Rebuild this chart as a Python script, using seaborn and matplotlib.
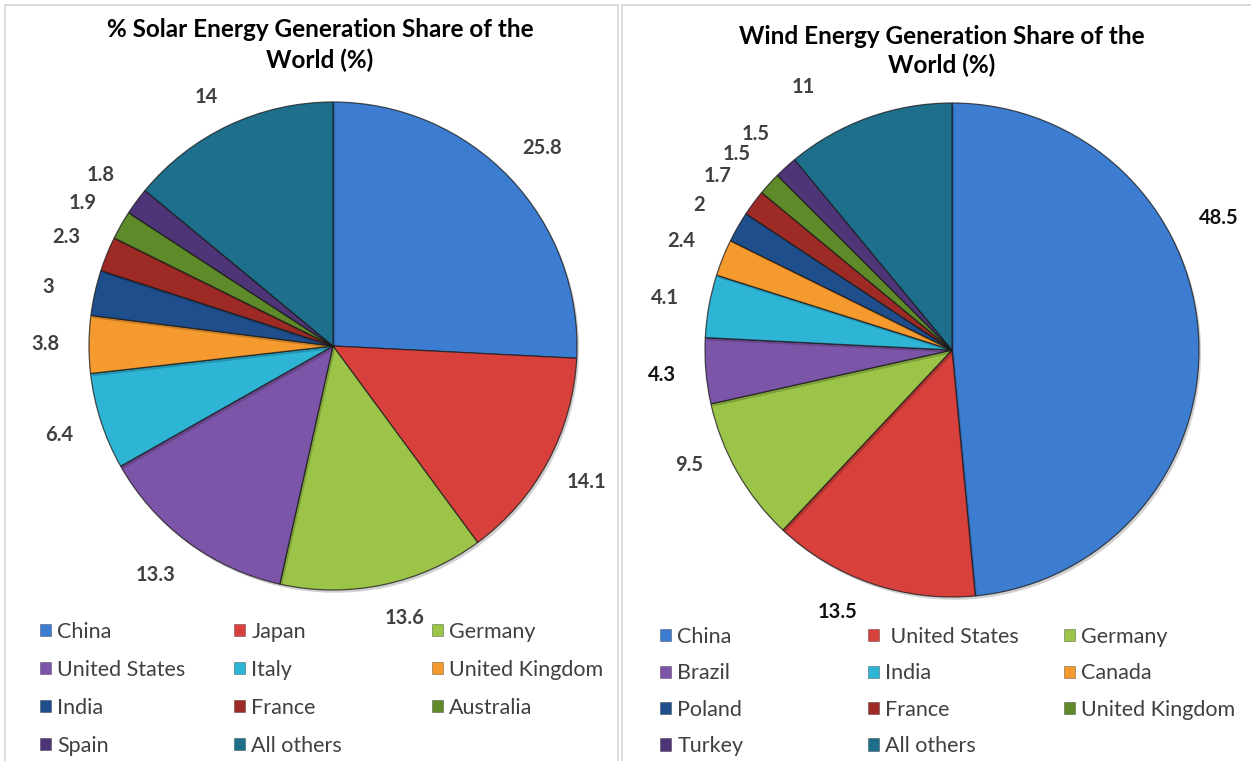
import numpy as np
import matplotlib
matplotlib.use("Agg")
import matplotlib.pyplot as plt
import matplotlib.patheffects as pe
from matplotlib.patches import Rectangle, Patch
from matplotlib.transforms import offset_copy
import seaborn as sns

# ---- data -------------------------------------------------------------
solar_countries = ["China", "Japan", "Germany", "United States", "Italy",
                   "United Kingdom", "India", "France", "Australia", "Spain",
                   "All others"]
solar_share = [25.8, 14.1, 13.6, 13.3, 6.4, 3.8, 3, 2.3, 1.9, 1.8, 14]

wind_countries = ["China", " United States", "Germany", "Brazil", "India",
                  "Canada", "Poland", "France", "United Kingdom", "Turkey",
                  "All others"]
wind_share = [48.5, 13.5, 9.5, 4.3, 4.1, 2.4, 2, 1.7, 1.5, 1.5, 11]

solar_title = "% Solar Energy Generation Share of the\nWorld (%)"
wind_title = "Wind Energy Generation Share of the\nWorld (%)"

# ---- style ------------------------------------------------------------
sns.set_theme(style="white")
plt.rcParams["font.family"] = ["Lato", "DejaVu Sans"]

palette = sns.color_palette([
    "#3C7DD2", "#D8403C", "#9BC448", "#7D55A8", "#2EB5D6", "#F59A2E",
    "#1F4E8C", "#9E2A26", "#5E8A2A", "#4E3578", "#1D6F8C",
])

W, H = 1251, 761
fig = plt.figure(figsize=(W / 100, H / 100), dpi=100)
fig.patch.set_facecolor("white")


def fx(x):
    return x / W


def fy(y):
    return 1 - y / H


# panel frames
for x0, x1 in [(5, 618), (622, 1252)]:
    fig.patches.append(Rectangle((fx(x0), fy(H + 2)), fx(x1 - x0), (H - 3) / H,
                                 transform=fig.transFigure, fill=False,
                                 edgecolor="#d4d4d4", linewidth=1.2))


def draw_pie(values, cx, cy, r, label_colors, nudges):
    ax = fig.add_axes([fx(cx - r), fy(cy + r), 2 * r / W, 2 * r / H])
    wedges, _ = ax.pie(values, colors=palette, startangle=90,
                       counterclock=False, radius=1,
                       wedgeprops=dict(edgecolor=(0.1, 0.1, 0.1, 0.75),
                                       linewidth=0.9))
    # soft drop shadow under each slice
    for w in wedges:
        w.set_path_effects([pe.SimplePatchShadow(offset=(1.5, -2),
                                                 shadow_rgbFace="#000000",
                                                 alpha=0.18),
                            pe.Normal()])
    ax.set_xlim(-1, 1)
    ax.set_ylim(-1, 1)
    ax.set_aspect("equal")
    ax.axis("off")
    total = float(sum(values))
    cum = np.cumsum([0] + list(values))[:-1]
    for i, v in enumerate(values):
        theta = np.deg2rad(90 - 360 * (cum[i] + v / 2) / total)
        dx, dy = nudges.get(i, (0, 0))
        tr = offset_copy(ax.transData, fig=fig, x=dx, y=dy, units="dots")
        ax.text(1.18 * np.cos(theta), 1.18 * np.sin(theta), f"{v:g}",
                transform=tr, ha="center", va="center", fontsize=14.5,
                fontweight="bold", color=label_colors[i], clip_on=False)
    return ax


grey = "#404040"
draw_pie(solar_share, 333, 346, 244, [grey] * len(solar_share),
         {2: (12, 10), 3: (-6, 2), 6: (-4, -4), 10: (-4, -12)})
wind_colors = [grey] * len(wind_share)
for k in (0, 1, 3):
    wind_colors[k] = "#111111"
draw_pie(wind_share, 952, 350, 247, wind_colors,
         {0: (-24, 118), 1: (-20, 14), 2: (-10, 29), 10: (-50, -11)})

fig.text(fx(320), fy(45), solar_title, ha="center", va="center",
         fontsize=17.5, fontweight="bold", color="black", linespacing=1.38)
fig.text(fx(942), fy(51), wind_title, ha="center", va="center",
         fontsize=17.5, fontweight="bold", color="black", linespacing=1.28)


def draw_legend(names, col_x, y_top, spacing):
    handles = [Patch(facecolor=palette[i], edgecolor=(0, 0, 0, 0.35),
                     linewidth=0.6) for i in range(len(names))]
    for c, x in enumerate(col_x):
        idx = list(range(c, len(names), 3))
        leg = fig.legend([handles[i] for i in idx], [names[i] for i in idx],
                         loc="upper left", bbox_to_anchor=(fx(x), fy(y_top)),
                         frameon=False, fontsize=15.5, handlelength=0.5,
                         handleheight=0.5, handletextpad=0.3,
                         labelspacing=spacing, borderpad=0, borderaxespad=0)
        for t in leg.get_texts():
            t.set_color("#404040")


draw_legend(solar_countries, [40, 234, 432], 622, 0.83)
draw_legend(wind_countries, [660, 868, 1064], 627, 0.76)

fig.savefig("out.png", dpi=100, facecolor="white")
